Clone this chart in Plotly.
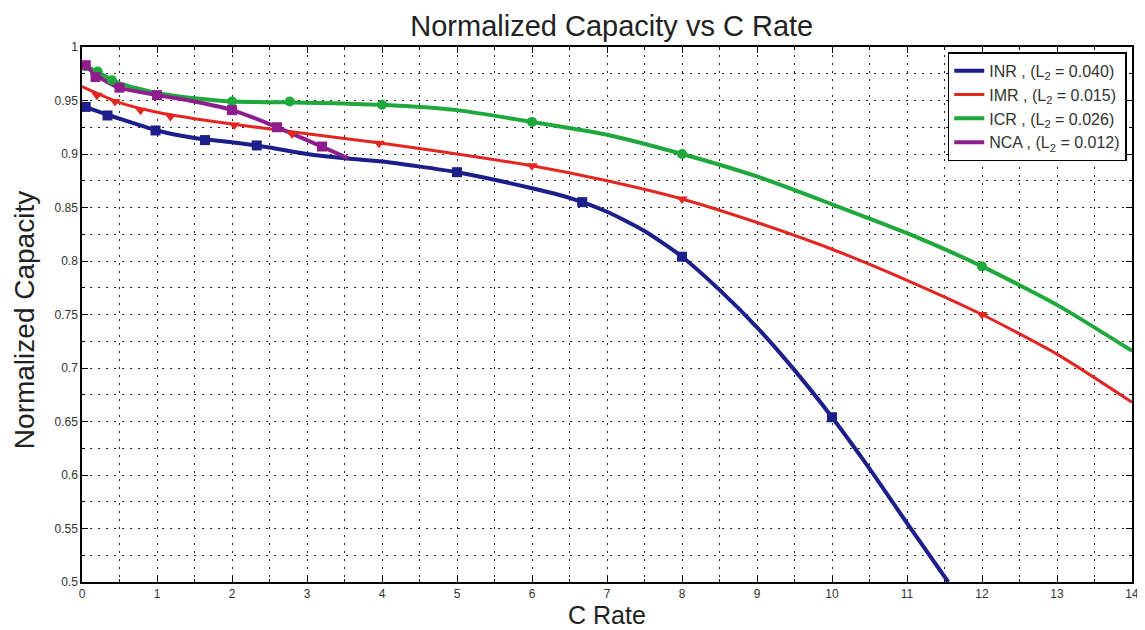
import plotly.graph_objects as go

# fitted curves
inr_x = [0, 0.5, 1, 1.5, 2, 2.5, 3, 3.5, 4, 5, 6, 6.5, 7, 7.5, 8, 8.5, 9, 9.5, 10, 10.5, 11, 11.55]
inr_y = [0.945, 0.933, 0.922, 0.915, 0.911, 0.906, 0.900, 0.896, 0.893, 0.883, 0.868, 0.859,
         0.846, 0.828, 0.804, 0.773, 0.738, 0.698, 0.654, 0.606, 0.555, 0.500]

imr_x = [0, 0.5, 1, 1.5, 2, 3, 4, 5, 6, 7, 8, 9, 10, 11, 12, 13, 14]
imr_y = [0.963, 0.948, 0.939, 0.933, 0.928, 0.919, 0.910, 0.900, 0.889, 0.875, 0.858, 0.836,
         0.811, 0.782, 0.750, 0.713, 0.668]

icr_x = [0, 0.25, 0.5, 1, 1.5, 2, 3, 4, 5, 6, 7, 8, 9, 10, 11, 12, 13, 14]
icr_y = [0.984, 0.975, 0.966, 0.957, 0.952, 0.949, 0.948, 0.946, 0.941, 0.930, 0.918, 0.900,
         0.879, 0.853, 0.826, 0.795, 0.759, 0.716]

nca_x = [0, 0.25, 0.5, 1, 1.5, 2, 2.5, 3, 3.55]
nca_y = [0.985, 0.971, 0.962, 0.955, 0.949, 0.941, 0.928, 0.913, 0.896]

# measured points
inr_mx = [0.05, 0.34, 0.98, 1.64, 2.33, 5.0, 6.67, 8.0, 10.0]
inr_my = [0.944, 0.936, 0.922, 0.913, 0.908, 0.883, 0.855, 0.804, 0.654]
imr_mx = [0.2, 0.44, 0.78, 1.18, 2.03, 2.8, 3.96, 6.0, 8.0, 12.0]
imr_my = [0.955, 0.949, 0.941, 0.935, 0.927, 0.919, 0.910, 0.889, 0.858, 0.750]
icr_mx = [0.05, 0.21, 0.4, 2.0, 2.77, 4.0, 6.0, 8.0, 12.0]
icr_my = [0.982, 0.977, 0.969, 0.949, 0.949, 0.946, 0.930, 0.900, 0.795]
nca_mx = [0.05, 0.18, 0.5, 1.0, 2.0, 2.6, 3.2]
nca_my = [0.983, 0.972, 0.962, 0.955, 0.941, 0.925, 0.907]

names = ["INR , (L<sub>2</sub> = 0.040)", "IMR , (L<sub>2</sub> = 0.015)",
         "ICR , (L<sub>2</sub> = 0.026)", "NCA , (L<sub>2</sub> = 0.012)"]

series = [
    (inr_x, inr_y, inr_mx, inr_my, "#1c1f8a", 4, "square"),
    (imr_x, imr_y, imr_mx, imr_my, "#e32622", 3, "triangle-down"),
    (icr_x, icr_y, icr_mx, icr_my, "#1fa83c", 4, "circle"),
    (nca_x, nca_y, nca_mx, nca_my, "#8e1e8e", 4, "square"),
]

fig = go.Figure()
for (lx, ly, mx, my, col, w, sym), nm in zip(series, names):
    fig.add_trace(go.Scatter(x=lx, y=ly, mode="lines", name=nm,
                             line=dict(color=col, width=w, shape="spline", smoothing=0.6)))
for (lx, ly, mx, my, col, w, sym) in series:
    fig.add_trace(go.Scatter(x=mx, y=my, mode="markers", showlegend=False,
                             marker=dict(color=col, size=10, symbol=sym)))

# page body has an 8px margin, so the figure is 8px smaller than the window
axis_font = dict(family="Liberation Sans, Arial", size=12, color="#333")
grid = dict(showgrid=True, gridcolor="#222", griddash="2px,6px", gridwidth=1.2)
fig.update_layout(
    width=1137, height=622,
    paper_bgcolor="white", plot_bgcolor="white",
    margin=dict(l=74, r=13, t=39, b=48),
    title=dict(text="Normalized Capacity vs C Rate", x=0.531, xanchor="center", y=0.972,
               yanchor="middle",
               font=dict(family="Liberation Sans Narrow, Arial Narrow, Liberation Sans", size=29, color="#222")),
    xaxis=dict(range=[0, 14], dtick=1, tick0=0, showline=True, linecolor="black", linewidth=1.5,
               mirror="ticks", ticks="inside", ticklen=6, tickcolor="black", automargin=False,
               minor=dict(dtick=0.5, ticks="inside", ticklen=3, tickcolor="black", **grid),
               zeroline=False, tickfont=axis_font, **grid),
    yaxis=dict(range=[0.5, 1], dtick=0.05, tick0=0.5, showline=True, linecolor="black", linewidth=1.5,
               mirror="ticks", ticks="inside", ticklen=6, tickcolor="black", automargin=False,
               minor=dict(dtick=0.025, ticks="inside", ticklen=3, tickcolor="black", **grid),
               zeroline=False, tickfont=axis_font, **grid),
    legend=dict(x=0.995, y=0.99, xanchor="right", yanchor="top", bgcolor="white",
                bordercolor="black", borderwidth=1.5, tracegroupgap=0,
                font=dict(family="Liberation Sans, Arial", size=16, color="#333")),
    showlegend=True,
    annotations=[
        dict(text="C Rate", xref="paper", yref="paper", x=0.5, y=-0.061, xanchor="center",
             yanchor="middle", showarrow=False,
             font=dict(family="Liberation Sans, Arial", size=25, color="#222")),
        dict(text="Normalized Capacity", xref="paper", yref="paper", x=-0.054, y=0.49,
             xanchor="center", yanchor="middle", textangle=-90, showarrow=False,
             font=dict(family="Liberation Sans, Arial", size=28, color="#222")),
    ],
)

fig.write_html("out.html")
